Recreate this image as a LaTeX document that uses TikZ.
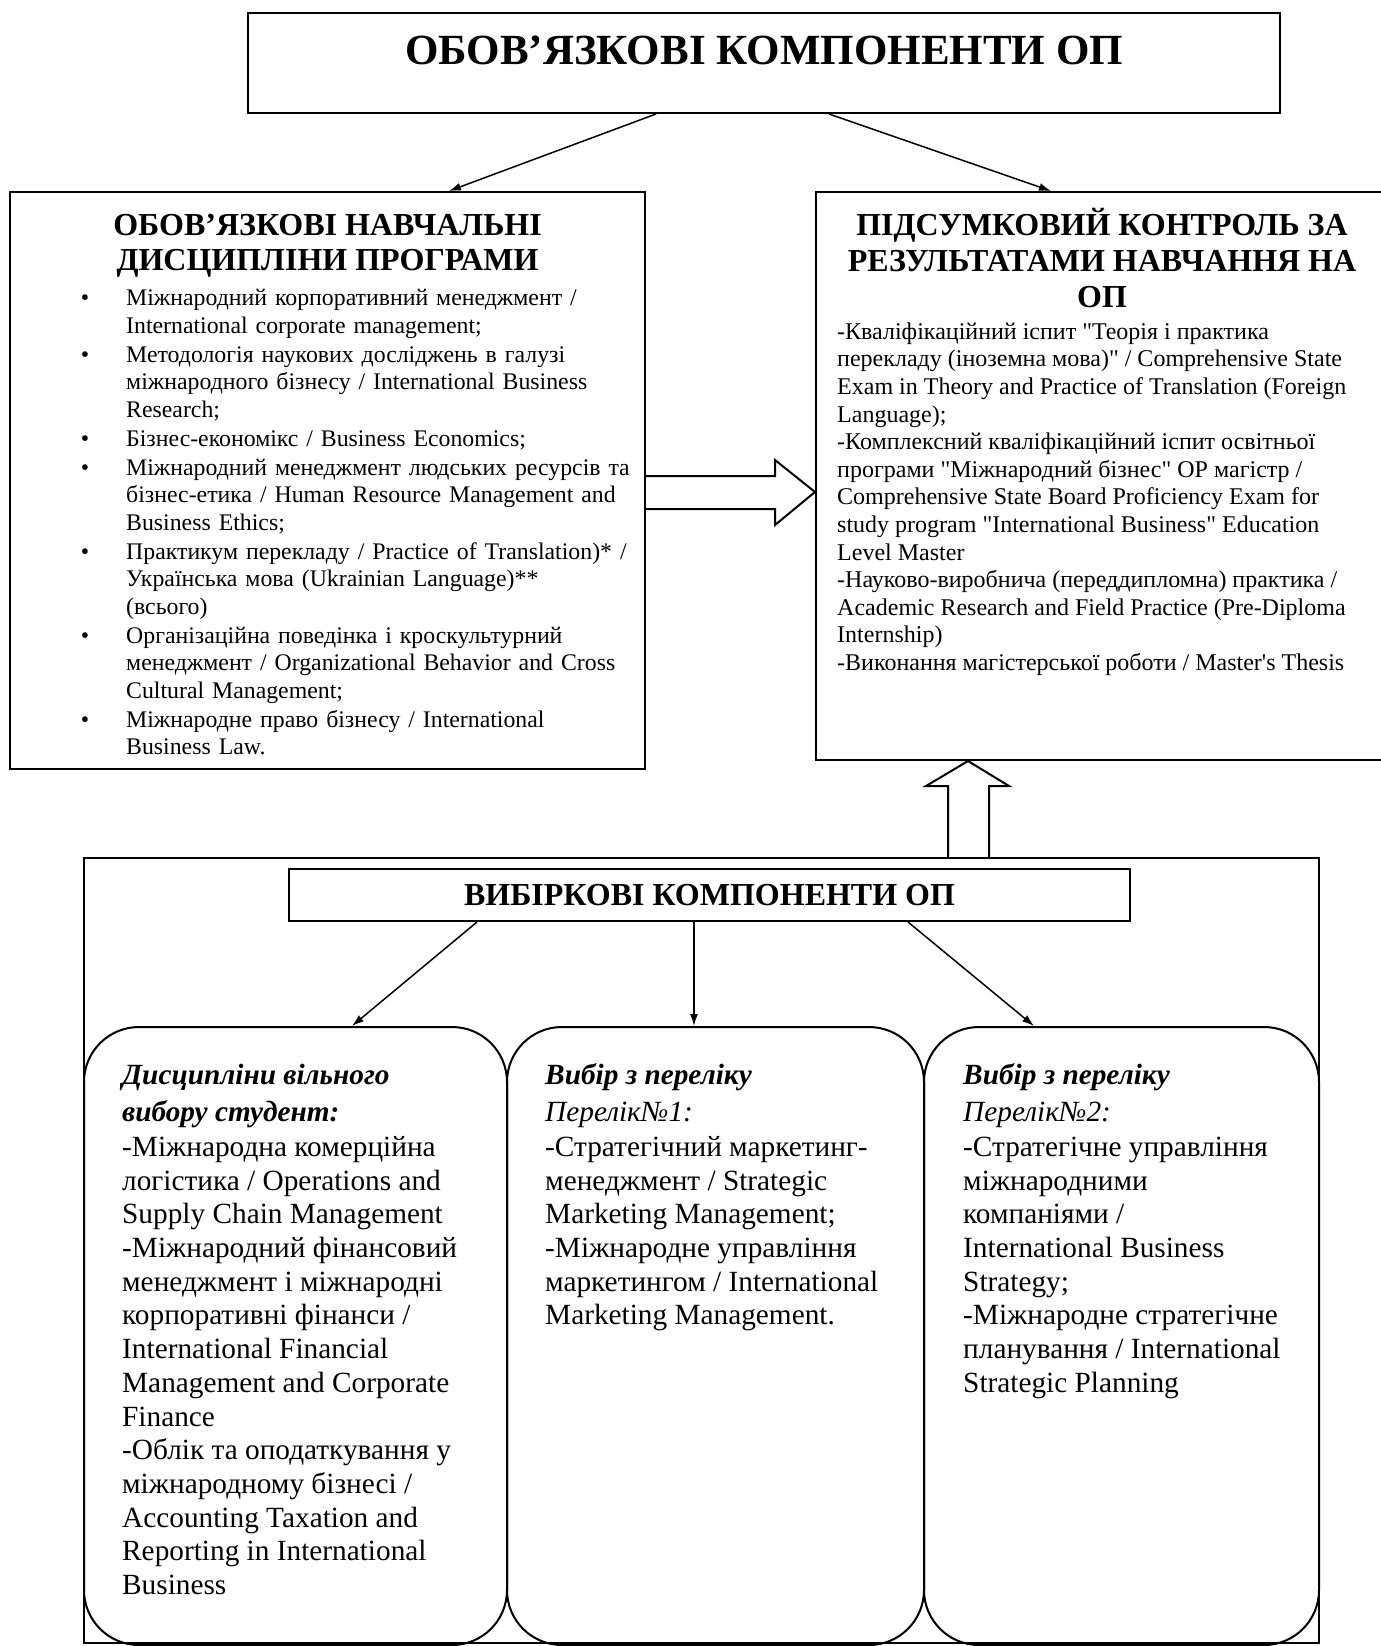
\documentclass[tikz,border=0pt]{standalone}
\usepackage{fontspec}
\setmainfont{Liberation Serif}[Ligatures=TeXOff]
\usetikzlibrary{arrows.meta,positioning}

\newcommand{\capstrut}{\rule{0pt}{1em}}
\newenvironment{courselist}{%
  \begin{list}{\textbullet}{%
    \setlength{\leftmargin}{66pt}%
    \setlength{\labelwidth}{20pt}%
    \setlength{\labelsep}{37pt}%
    \setlength{\itemsep}{1.5pt}%
    \setlength{\parsep}{0pt}%
    \setlength{\topsep}{0pt}%
    \setlength{\partopsep}{0pt}}}%
  {\end{list}}

\begin{document}
\begin{tikzpicture}[x=1pt,y=-1pt,
    box/.style={rectangle,draw,line width=2pt,inner sep=0pt},
    roundbox/.style={rectangle,draw,line width=2pt,rounded corners=55pt,inner sep=0pt},
    txt/.style={inner sep=0pt,align=left},
    link/.style={-{Latex[length=12pt,width=8pt]},line width=1.5pt},
    hollow/.style={line width=2pt}]

    \path[use as bounding box,fill=white] (0,0) rectangle (1381,1646);

    \node[box,minimum width=1032pt,minimum height=100pt] (oblig) at (764,63) {};
    \node[anchor=base,inner sep=0pt,font=\fontsize{43}{49}\selectfont\bfseries] (obligtitle) at (764,64) {ОБОВ’ЯЗКОВІ КОМПОНЕНТИ ОП};

    \node[box,minimum width=635pt,minimum height=577pt] (core) at (327.5,480.5) {};
    \node[anchor=north,inner sep=0pt,align=center,font=\fontsize{32}{35.6}\selectfont\bfseries] (coretitle) at (327.5,203) {\capstrut ОБОВ’ЯЗКОВІ НАВЧАЛЬНІ\\ДИСЦИПЛІНИ ПРОГРАМИ};
    \node[anchor=north west,txt,text width=620pt,font=\fontsize{23.8}{27.5}\selectfont] (corelist) at (60,278) {\raggedright
    \begin{courselist}
    \item \capstrut Міжнародний корпоративний менеджмент /\\International corporate management;
    \item Методологія наукових досліджень в галузі\\міжнародного бізнесу / International Business\\Research;
    \item Бізнес-економікс / Business Economics;
    \item Міжнародний менеджмент людських ресурсів та\\бізнес-етика / Human Resource Management and\\Business Ethics;
    \item Практикум перекладу / Practice of Translation)* /\\Українська мова (Ukrainian Language)**\\(всього)
    \item Організаційна поведінка і кроскультурний\\менеджмент / Organizational Behavior and Cross\\Cultural Management;
    \item Міжнародне право бізнесу / International\\Business Law.
    \end{courselist}};

    \node[box,minimum width=574pt,minimum height=568pt] (final) at (1103,476) {};
    \node[anchor=north,inner sep=0pt,align=center,font=\fontsize{32}{36}\selectfont\bfseries] (finaltitle) at (1102,203) {\capstrut ПІДСУМКОВИЙ КОНТРОЛЬ ЗА\\РЕЗУЛЬТАТАМИ НАВЧАННЯ НА\\ОП};
    \node[anchor=north west,txt,font=\fontsize{24}{27.6}\selectfont] (finaltext) at (837,315) {\capstrut -Кваліфікаційний іспит "Теорія і практика\\
    перекладу (іноземна мова)" / Comprehensive State\\
    Exam in Theory and Practice of Translation (Foreign\\
    Language);\\
    -Комплексний кваліфікаційний іспит освітньої\\
    програми "Міжнародний бізнес" ОР магістр /\\
    Comprehensive State Board Proficiency Exam for\\
    study program "International Business" Education\\
    Level Master\\
    -Науково-виробнича (переддипломна) практика /\\
    Academic Research and Field Practice (Pre-Diploma\\
    Internship)\\
    -Виконання магістерської роботи / Master's Thesis};

    \draw[link] ([xshift=-108pt]oblig.south) -- ([xshift=121.5pt]core.north);
    \draw[link] ([xshift=65pt]oblig.south) -- ([xshift=-52pt]final.north);

    % hollow arrows
    \draw[hollow] (core.east |- 0,476) -| (775,460) -- (final.west |- 0,492) -- (775,525) |- (core.east |- 0,509);

    \node[box,minimum width=1235pt,minimum height=785pt] (elective) at (701.5,1250.5) {};
    \draw[hollow] (948,0 |- elective.north) |- (926,786) -- (968,0 |- final.south) -- (1009,786) -| (989,0 |- elective.north);

    \node[box,fill=white,minimum width=841pt,minimum height=52pt,font=\fontsize{32}{36}\selectfont\bfseries] (electtitle) at (709.5,895) {ВИБІРКОВІ КОМПОНЕНТИ ОП};

    \node[roundbox,minimum width=423pt,minimum height=618pt] (free) at (295.5,1336) {};
    \node[roundbox,minimum width=417pt,minimum height=618pt] (list1) at (715.5,1336) {};
    \node[roundbox,minimum width=395pt,minimum height=618pt] (list2) at (1121.5,1336) {};

    \draw[link] ([xshift=-232.5pt]electtitle.south) -- ([xshift=56.5pt]free.north);
    \draw[link] ([xshift=-15.5pt]electtitle.south) -- ([xshift=-21.5pt]list1.north);
    \draw[link] ([xshift=198.5pt]electtitle.south) -- ([xshift=-87.5pt]list2.north);

    \node[anchor=north west,txt,font=\fontsize{29.3}{33.7}\selectfont] (freetext) at (122,1055) {\capstrut\textbf{\textit{Дисципліни вільного}}\\[3pt]
    \textbf{\textit{вибору студент:}}\\[1.5pt]
    -Міжнародна комерційна\\
    логістика / Operations and\\
    Supply Chain Management\\
    -Міжнародний фінансовий\\
    менеджмент і міжнародні\\
    корпоративні фінанси /\\
    International Financial\\
    Management and Corporate\\
    Finance\\
    -Облік та оподаткування у\\
    міжнародному бізнесі /\\
    Accounting Taxation and\\
    Reporting in International\\
    Business};
    \node[anchor=north west,txt,font=\fontsize{29.3}{33.7}\selectfont] (list1text) at (545,1055) {\capstrut\textbf{\textit{Вибір з переліку}}\\[3pt]
    \textit{Перелік№1:}\\[1.5pt]
    -Стратегічний маркетинг-\\
    менеджмент / Strategic\\
    Marketing Management;\\
    -Міжнародне управління\\
    маркетингом / International\\
    Marketing Management.};
    \node[anchor=north west,txt,font=\fontsize{29.3}{33.7}\selectfont] (list2text) at (963,1055) {\capstrut\textbf{\textit{Вибір з переліку}}\\[3pt]
    \textit{Перелік№2:}\\[1.5pt]
    -Стратегічне управління\\
    міжнародними\\
    компаніями /\\
    International Business\\
    Strategy;\\
    -Міжнародне стратегічне\\
    планування / International\\
    Strategic Planning};
\end{tikzpicture}
\end{document}
